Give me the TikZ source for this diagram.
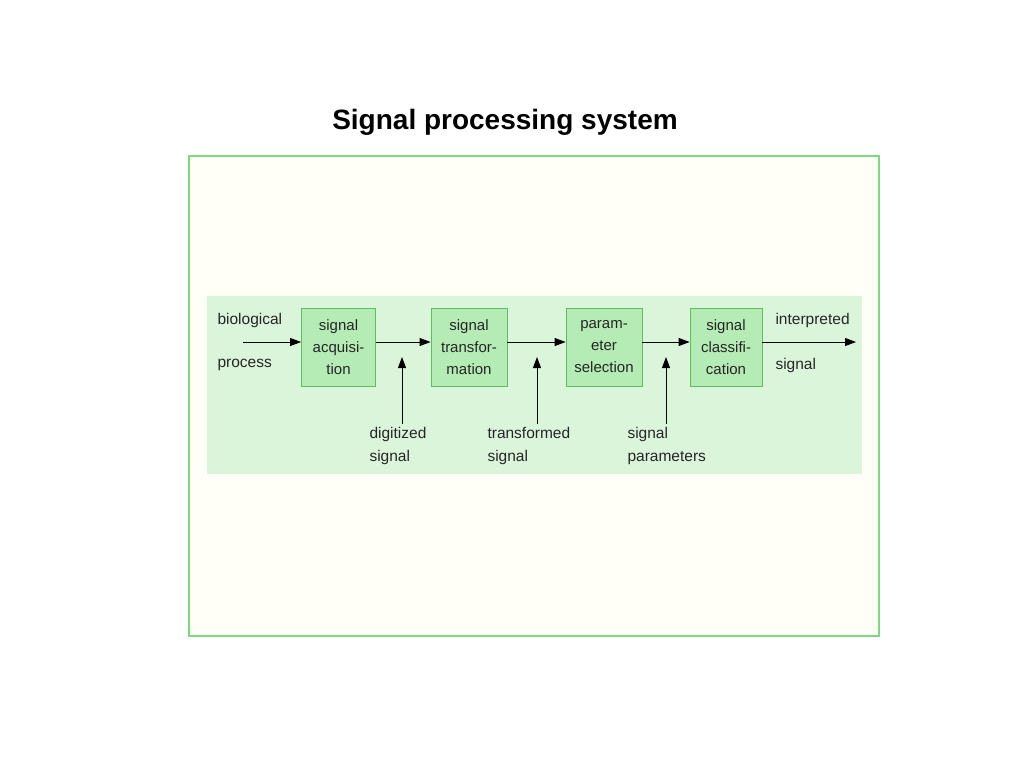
\documentclass[tikz,border=0pt]{standalone}
\usepackage{fontspec}
\setmainfont{Liberation Sans}
\usetikzlibrary{arrows.meta}
\definecolor{frame}{HTML}{7ED87E}
\definecolor{band}{HTML}{DBF5DB}
\definecolor{boxf}{HTML}{B5EBB5}
\definecolor{boxd}{HTML}{5DBE5D}
\begin{document}
\begin{tikzpicture}[x=1pt,y=-1pt,
  blk/.style={draw=boxd,fill=boxf,line width=0.8pt,minimum width=74pt,minimum height=78pt,align=center,font=\fontsize{15}{22}\selectfont,text=black!85,inner sep=1pt},
  lbl/.style={font=\fontsize{15.5}{23}\selectfont,text=black!85},
  arr/.style={-{Triangle[length=11pt,width=8pt]},line width=0.8pt}]
\useasboundingbox (0,0) rectangle (1024,768);
\fill[white] (0,0) rectangle (1024,768);
\node[font=\bfseries\fontsize{28}{32}\selectfont] (title) at (505,122) {Signal processing system};
\draw[frame,fill=yellow!3,line width=1.5pt] (189,156) rectangle (879,636);
\fill[band] (207,296) rectangle (862,474);
\node[blk] (b1) at (338.5,347) {signal\\acquisi-\\tion};
\node[blk,minimum width=76pt] (b2) at (469,347) {signal\\transfor-\\mation};
\node[blk,minimum width=76pt] (b3) at (604,347) {param-\\eter\\selection};
\node[blk,minimum width=72pt] (b4) at (726,347) {signal\\classifi-\\cation};
\coordinate (in) at (243,342);
\coordinate (out) at (856,342);
\draw[arr] (in) -- (b1.west |- in);
\draw[arr] (b1.east |- in) -- (b2.west |- in);
\draw[arr] (b2.east |- in) -- (b3.west |- in);
\draw[arr] (b3.east |- in) -- (b4.west |- in);
\draw[arr] (b4.east |- in) -- (out);
\coordinate (u1) at (402,424); \coordinate (v1) at (402,357);
\coordinate (u2) at (537,424); \coordinate (v2) at (537,357);
\coordinate (u3) at (666,424); \coordinate (v3) at (666,357);
\draw[arr] (u1) -- (v1);
\draw[arr] (u2) -- (v2);
\draw[arr] (u3) -- (v3);
\node[lbl,anchor=west] (t1) at (214,320) {biological};
\node[lbl,anchor=west] (t2) at (214,365) {process};
\node[lbl,anchor=west] (t3) at (772,320) {interpreted};
\node[lbl,anchor=west] (t4) at (772,365) {signal};
\node[lbl,align=left,anchor=west] (t5) at (366,446) {digitized\\signal};
\node[lbl,align=left,anchor=west] (t6) at (484,446) {transformed\\signal};
\node[lbl,align=left,anchor=west] (t7) at (624,446) {signal\\parameters};
\end{tikzpicture}
\end{document}
